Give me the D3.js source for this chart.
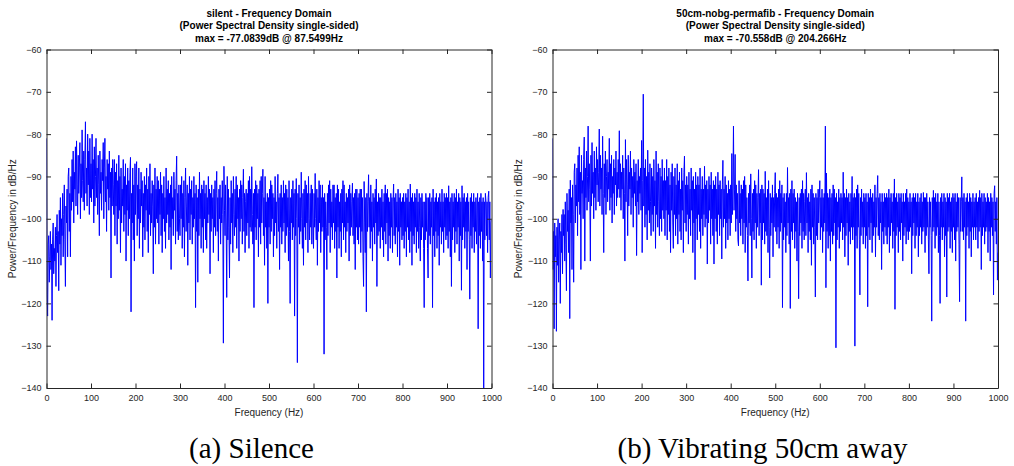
<!DOCTYPE html>
<html>
<head>
<meta charset="utf-8">
<script src="https://cdn.jsdelivr.net/npm/d3@7"></script>
<style>
  html, body { margin: 0; padding: 0; background: #fff; }
  svg { display: block; }
</style>
</head>
<body>
<div id="chart"></div>
<script>
// ---------------- DATA ----------------
// PSD values (dB/Hz) on a 1.25 Hz grid from 0 to 1000 Hz
const freqStep = 1.25;

const silentPsd = [
  -81,-118,-123,-106,-104,-115,-109,-103,-112,-106,-124,-105,-101,-113,-107,-110,-102,-116,-104,-99,
  -108,-103,-117,-98,-106,-95,-111,-100,-104,-94,-109,-99,-92,-105,-116,-97,-101,-93,-109,-90,
  -88,-103,-94,-109,-90,-98,-86,-96,-84,-101,-89,-93,-83,-97,-81.6,-92,-99,-85,-94,-88,
  -82,-100,-87,-95,-79,-91,-96,-84,-98,-86,-77.08,-94,-88,-97,-80,-92,-84,-99,-81,-95,
  -87,-96,-80,-93,-86,-101,-83,-97,-90,-81,-95,-88,-99,-85,-92,-104,-84,-94,-89,-98,
  -86,-91,-82,-100,-88,-81,-96,-90,-103,-86,-93,-87,-98,-84,-95,-89,-114,-88,-97,-86,
  -92,-99,-86,-104,-89,-97,-87,-106,-91,-100,-85,-98,-90,-108,-88,-101,-93,-97,-86,-103,
  -90,-99,-87,-110,-92,-98,-88,-104,-91,-100,-89,-85.5,-122,-94,-101,-88,-105,-92,-110,-87,
  -99,-90,-86.5,-104,-92,-100,-88,-107,-93,-101,-89,-97,-91,-109,-94,-102,-90,-105,-92,-98,
  -88,-103,-93,-108,-90,-99,-87,-104,-94,-101,-91,-97,-113,-92,-102,-88,-106,-93,-100,-90,
  -101,-91,-106,-93,-99,-89,-104,-92,-108,-94,-100,-90,-103,-95,-107,-88,-101,-93,-99,-91,
  -105,-94,-102,-92,-112,-90,-100,-95,-104,-89,-98,-93,-106,-91,-85.2,-103,-94,-105,-92,-100,
  -104,-92,-100,-90,-107,-94,-102,-91,-109,-95,-88,-103,-97,-92,-111,-94,-101,-90,-105,-93,
  -99,-91,-106,-95,-102,-90,-100,-94,-121,-92,-103,-95,-115,-93,-104,-89,-100,-94,-107,-92,
  -102,-93,-108,-91,-100,-94,-105,-92,-107,-95,-101,-90,-99,-93,-113,-94,-103,-92,-100,-95,
  -108,-93,-102,-91,-104,-94,-88.8,-103,-95,-110,-93,-100,-92,-106,-95,-101,-91,-99,-129.4,-87.6,
  -98,-104,-92,-101,-118.6,-90,-105,-93,-102,-114,-95,-106,-91,-101,-94,-108,-90,-99,-104,-93,
  -102,-90,-107,-92,-100,-95,-110,-93,-103,-91,-100,-92,-106,-95,-88.3,-103,-94,-108,-96,-93,
  -104,-94,-101,-91,-107,-90,-102,-93,-103,-87.7,-99,-106,-94,-121,-93,-102,-91,-105,-92,-100,
  -94,-109,-93,-102,-91,-106,-90,-101,-94,-88.3,-104,-95,-111,-90,-102,-96,-107,-94,-120,-95,
  -102,-93,-106,-91,-103,-92,-100,-94,-109,-95,-104,-90,-101,-96,-107,-94,-89.5,-103,-95,-112,
  -94,-102,-92,-106,-95,-103,-91,-101,-94,-108,-92,-104,-93,-102,-95,-110,-91,-103,-120,-95,
  -101,-93,-105,-91,-102,-94,-123,-93,-104,-90.5,-100,-134,-94,-102,-92,-106,-95,-103,-89,-100,
  -107,-94,-111,-93,-102,-91,-105,-92,-101,-94,-108,-90,-100,-105,-94,-102,-92,-106,-93,-101,
  -107,-94,-102,-89.3,-100,-105,-93,-111,-95,-103,-91,-101,-92,-108,-95,-103,-92,-102,-95,-132,
  -94,-105,-96,-102,-112,-94,-104,-92,-101,-91,-108,-93,-102,-96,-105,-92,-101,-92,-107,-95,
  -103,-94,-114,-92,-102,-93,-107,-96,-103,-94,-109,-93,-101,-91,-105,-92,-102,-96,-108,-94,
  -103,-95,-101,-93,-110,-92,-104,-94,-102,-96,-91.6,-104,-95,-106,-94,-112,-93,-102,-93,-105,
  -95,-106,-94,-102,-93,-108,-93,-103,-95,-109,-116,-91.2,-101,-108,-95,-122,-94,-103,-96,-89.6,
  -102,-95,-107,-92,-103,-96,-110,-94,-102,-95,-106,-93,-101,-90.6,-116,-96,-104,-94,-103,-95,
  -107,-95,-102,-93,-105,-96,-109,-94,-103,-92,-106,-94,-101,-93,-110,-95,-104,-96,-107,-94,
  -102,-95,-108,-96,-91.8,-104,-95,-106,-94,-102,-96,-109,-93,-103,-95,-111,-94,-102,-96,-105,
  -95,-104,-94,-107,-96,-103,-94,-109,-95,-102,-93,-105,-96,-108,-91.8,-103,-95,-111,-94,-104,
  -96,-106,-94,-102,-95,-108,-93,-103,-96,-107,-94,-102,-110,-95,-105,-94,-102,-96,-107,-121,
  -96,-105,-94,-103,-95,-107,-114,-95,-104,-94,-106,-96,-102,-95,-121,-93,-104,-96,-109,-95,
  -103,-94,-107,-96,-104,-95,-111,-94,-102,-96,-106,-93,-103,-96,-108,-94,-102,-95,-105,-94,
  -104,-95,-107,-92.2,-103,-96,-109,-95,-116,-94,-105,-96,-102,-94,-108,-95,-103,-93,-106,-96,
  -102,-94,-110,-95,-104,-96,-116.9,-92.2,-105,-95,-102,-94,-107,-96,-103,-95,-112,-94,-103,-96,
  -105,-119,-95,-104,-94,-107,-96,-102,-94,-108,-96,-103,-95,-106,-97,-94,-126,-96,-104,-95,
  -107,-94,-103,-96,-110,-95,-140,-96,-105,-94,-95.8,-104,-96,-108,-95,-93.5,-105,-96,-114,-101,
  -100
];

const vibratingPsd = [
  -81,-112,-103,-126,-101,-109,-104,-126.6,-102,-111,-100,-115,-105,-101,-120,-103,-108,-99,-113,-97.8,
  -104,-99,-110,-96,-106,-117,-94,-103,-98,-108,-93,-123.6,-90.9,-101,-95,-112,-92,-99,-115,-89,
  -87,-101,-92,-97,-88,-104,-85,-96,-83,-99,-89,-112,-85,-94,-91,-100,-86,-80.7,-110,-88,
  -95,-84,-98,-90,-78.1,-96,-87,-93,-110,-85,-97,-82,-94,-89,-100,-84,-95,-88,-98,-83,
  -92,-86,-96,-89,-78.8,-97,-85,-93,-88,-99,-80.5,-94,-108,-87,-95,-84,-99,-90,-86,-96,
  -89,-93,-81,-98,-87,-95,-85,-101,-90,-94,-86,-99,-88,-92,-84,-97,-89,-95,-86,-93,
  -79.2,-95,-87,-98,-89,-93,-85,-100,-88,-94,-110,-81.3,-96,-86,-92,-104,-85,-97,-89,-93,
  -84,-99,-88,-95,-90,-102,-86,-94,-89,-97,-87,-108.7,-91,-96,-86,-99,-90,-94,-88,-98,
  -81.5,-108,-91,-70.56,-97,-88,-102,-86,-99,-90,-105,-83.8,-98,-89,-101,-87,-96,-104,-88,-99,
  -90,-103,-86,-97,-91,-107,-84,-99,-89,-102,-87,-96,-104,-88,-100,-90,-103,-86,-98,-91,
  -100,-88,-104,-91,-98,-86,-105,-90,-99,-88,-103,-92,-108,-89,-98,-87,-101,-107,-90,-99,
  -88,-104,-92,-100,-87,-106,-91,-99,-89,-103,-93,-105,-88,-98,-91,-108,-89,-85.2,-101,-92,
  -103,-90,-99,-92,-106,-89,-100,-93,-104,-88,-98,-91,-108,-90,-101,-93,-114.4,-89,-100,-92,
  -105,-90,-99,-92,-103,-88,-107,-93,-100,-90,-104,-93,-99,-87.6,-102,-92,-100,-91,-110.7,-93,
  -101,-90,-98,-92,-106,-89,-100,-93,-104,-91,-110.7,-92,-100,-90,-103,-93,-106,-89,-99,-92,
  -104,-91,-100,-93,-109.5,-92,-86.2,-102,-93,-100,-90,-107,-92,-101,-94,-105,-91,-100,-93,-104,
  -92,-101,-84.6,-99,-92,-78.1,-98,-93,-84.8,-103,-92,-100,-94,-105,-106.4,-91,-101,-94,-104,-92,
  -100,-93,-106,-91,-101,-90,-108,-92,-102,-95,-104,-114.7,-94,-101,-92,-104,-89.4,-100,-114,-94,
  -103,-93,-105,-91,-101,-92,-107,-94,-102,-95,-88.4,-104,-94,-101,-93,-115.7,-92,-105,-93,-101,
  -94,-106,-88.8,-103,-95,-104,-93,-108,-91,-102,-114,-94,-104,-95,-101,-92,-109,-95,-102,-94,
  -89.1,-103,-94,-106,-95,-102,-93,-107,-91,-103,-94,-101,-92,-121,-95,-105,-94,-102,-96,-108,
  -94,-104,-87.9,-101,-95,-106,-94,-121.2,-93,-103,-91,-105,-94,-101,-93,-107,-95,-103,-96,-110,
  -94,-103,-118.9,-95,-104,-94,-101,-93,-107,-91,-103,-94,-105,-96,-93,-104,-89.1,-101,-95,-108,
  -94,-103,-96,-105,-93,-111,-92,-102,-94,-106,-95,-102,-118.5,-94,-104,-95,-105,-93,-101,-95,
  -91,-105,-95,-102,-93,-108,-95,-103,-94,-101,-78.1,-116.3,-89.2,-103,-94,-107,-95,-104,-93,-110,
  -95,-103,-94,-106,-92,-104,-93,-101,-95,-130.5,-94,-105,-96,-102,-93,-107,-95,-103,-94,-101,
  -95,-105,-89,-102,-94,-109,-95,-104,-93,-101,-95,-111,-94,-103,-96,-106,-94,-102,-90,-105,
  -95,-102,-94,-130.1,-95,-104,-93,-107,-92,-102,-94,-105,-118,-95,-104,-93,-102,-96,-106,-94,
  -102,-95,-107,-94,-104,-96,-120.8,-94,-102,-95,-105,-93,-101,-95,-108,-94,-104,-96,-102,-92,
  -109,-95,-102,-94,-89.8,-104,-95,-105,-94,-101,-96,-112,-94,-103,-96,-106,-94,-102,-95,-104,
  -94,-106,-95,-102,-93,-108,-95,-104,-94,-101,-96,-107,-94,-103,-90.6,-121.4,-95,-104,-94,-102,
  -96,-108,-94,-103,-95,-105,-94,-101,-96,-110,-94,-104,-96,-102,-94,-106,-93,-103,-95,-105,
  -96,-103,-94,-102,-96,-113,-95,-104,-94,-101,-95,-107,-94,-104,-96,-102,-94,-109,-96,-104,
  -95,-102,-94,-106,-96,-103,-93.8,-102,-95,-108,-95,-104,-94,-102,-96,-105,-113,-95,-102,-96,
  -104,-124.2,-95,-103,-93.3,-102,-95,-107,-94,-104,-96,-102,-94,-108,-96,-104,-120,-95,-102,-94,
  -105,-96,-102,-94,-109,-95,-104,-96,-118.5,-94,-103,-95,-102,-94,-107,-96,-103,-95,-108,-94,
  -102,-95,-105,-94,-110,-96,-103,-94,-102,-95,-106,-119.6,-95,-103,-96,-90.1,-103,-95,-105,-94,
  -102,-96,-124.2,-95,-104,-94,-102,-96,-107,-94,-103,-95,-109,-96,-102,-94,-105,-96,-102,-95,
  -105,-94,-102,-96,-107,-95,-103,-93.3,-102,-95,-112,-94,-104,-96,-102,-94,-106,-95,-103,-96,
  -102,-94,-108,-95,-103,-96,-110,-94,-102,-95,-104,-96,-118,-94,-92.2,-103,-96,-106,-95,-114.5,
  -108
];

const xTicks = [0, 100, 200, 300, 400, 500, 600, 700, 800, 900, 1000];
const yTicks = [-140, -130, -120, -110, -100, -90, -80, -70, -60];

const silentTitle = ["silent - Frequency Domain", "(Power Spectral Density single-sided)", "max = -77.0839dB @ 87.5499Hz"];
const vibratingTitle = ["50cm-nobg-permafib - Frequency Domain", "(Power Spectral Density single-sided)", "max = -70.558dB @ 204.266Hz"];
const captions = ["(a) Silence", "(b) Vibrating 50cm away"];

// ---------------- LAYOUT ----------------
const W = 1014, H = 466;
const plotTop = 49.5, plotBottom = 388;
const axisColor = "#262626";
const sansFont = "'Liberation Sans', Arial, Helvetica, sans-serif";

const svg = d3.select("#chart")
  .append("svg")
  .attr("width", W)
  .attr("height", H)
  .attr("viewBox", `0 0 ${W} ${H}`);

svg.append("rect").attr("width", W).attr("height", H).attr("fill", "#fff");

function drawPanel(psd, titleLines, caption, left, right, capX, id) {
  const x = d3.scaleLinear().domain([0, 1000]).range([left, right]);
  const y = d3.scaleLinear().domain([-140, -60]).range([plotBottom, plotTop]);
  const cx = (left + right) / 2;

  const g = svg.append("g");

  // clip
  svg.append("clipPath").attr("id", "clip" + id)
    .append("rect")
    .attr("x", left).attr("y", plotTop)
    .attr("width", right - left).attr("height", plotBottom - plotTop);

  // data line
  const line = d3.line()
    .x((d, i) => x(i * freqStep))
    .y(d => y(d));

  g.append("path")
    .datum(psd)
    .attr("clip-path", `url(#clip${id})`)
    .attr("d", line)
    .attr("fill", "none")
    .attr("stroke", "#0000ff")
    .attr("stroke-width", 1);

  // axes (ticks inside, box on)
  const bottom = g.append("g")
    .attr("transform", `translate(0,${plotBottom})`)
    .call(d3.axisBottom(x).tickValues(xTicks).tickFormat(d3.format("d")).tickSize(-4.5).tickSizeOuter(0).tickPadding(7));
  const top = g.append("g")
    .attr("transform", `translate(0,${plotTop})`)
    .call(d3.axisTop(x).tickValues(xTicks).tickSize(-4.5).tickSizeOuter(0).tickFormat(""));
  const leftAx = g.append("g")
    .attr("transform", `translate(${left},0)`)
    .call(d3.axisLeft(y).tickValues(yTicks).tickSize(-4.5).tickSizeOuter(0).tickPadding(5));
  const rightAx = g.append("g")
    .attr("transform", `translate(${right},0)`)
    .call(d3.axisRight(y).tickValues(yTicks).tickSize(-4.5).tickSizeOuter(0).tickFormat(""));

  [bottom, top, leftAx, rightAx].forEach(a => {
    a.attr("font-family", sansFont).attr("font-size", 9);
    a.select(".domain").attr("stroke", axisColor).attr("stroke-width", 1);
    a.selectAll(".tick line").attr("stroke", axisColor);
    a.selectAll(".tick text").attr("fill", axisColor);
  });

  // title
  titleLines.forEach((t, i) => {
    g.append("text")
      .attr("x", cx)
      .attr("y", 16.5 + i * 12.8)
      .attr("text-anchor", "middle")
      .style("font-family", sansFont)
      .style("font-size", "10px")
      .style("font-weight", "bold")
      .attr("fill", "#000")
      .text(t);
  });

  // axis labels
  g.append("text")
    .attr("x", cx)
    .attr("y", 415.5)
    .attr("text-anchor", "middle")
    .style("font-family", sansFont)
    .style("font-size", "10px")
    .attr("fill", axisColor)
    .text("Frequency (Hz)");

  g.append("text")
    .attr("transform", `translate(${left - 31},${(plotTop + plotBottom) / 2}) rotate(-90)`)
    .attr("text-anchor", "middle")
    .style("font-family", sansFont)
    .style("font-size", "10px")
    .attr("fill", axisColor)
    .text("Power/Frequency in dB/Hz");

  // subfigure caption
  svg.append("text")
    .attr("x", capX)
    .attr("y", 457.5)
    .attr("text-anchor", "middle")
    .style("font-family", "'Liberation Serif', 'Times New Roman', serif")
    .style("font-size", "29px")
    .attr("fill", "#000")
    .text(caption);
}

drawPanel(silentPsd, silentTitle, captions[0], 46.5, 491.5, 251.5, 0);
drawPanel(vibratingPsd, vibratingTitle, captions[1], 552.5, 998, 762.5, 1);
</script>
</body>
</html>
